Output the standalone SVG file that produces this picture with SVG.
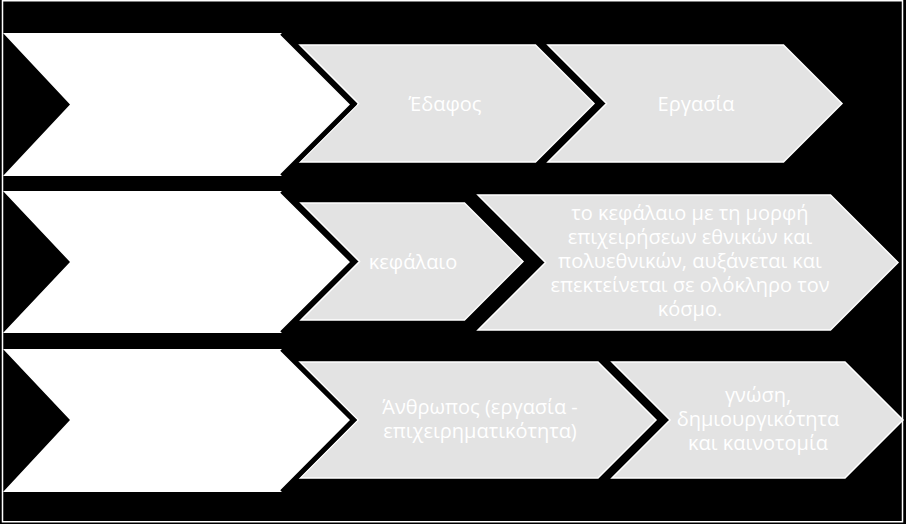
<svg xmlns="http://www.w3.org/2000/svg" width="906" height="524" viewBox="0 0 906 524">
<style>
.bg{fill:#000}
.frame{fill:none;stroke:#fff;stroke-width:1.5}
.lead{fill:#fff}
.edge{fill:none;stroke:#000;stroke-width:5;stroke-linejoin:miter}
.step{fill:#e3e3e3;stroke:#fff;stroke-width:1.5}
.t{fill:#fff;font-family:"Open Sans","Noto Sans",sans-serif;font-size:20px;text-anchor:middle}
</style>
<rect class="bg" x="0" y="0" width="906" height="524"/>
<rect class="frame" x="2.5" y="0.75" width="900" height="521"/>
<g id="connectors"></g>
<g id="row1-step1">
<polygon class="step" points="300,45 535.5,45 594,103.5 535.5,162 300,162 358.5,103.5"/>
<text class="t" x="445" y="110.5">Έδαφος</text>
</g>
<g id="row1-step2">
<polygon class="step" points="548,45 783.5,45 842,103.5 783.5,162 548,162 606.5,103.5"/>
<text class="t" x="696" y="110.5">Εργασία</text>
</g>
<g id="row2-step1">
<polygon class="step" points="301,203 464.5,203 523,261.5 464.5,320 301,320 359.5,261.5"/>
<text class="t" x="413" y="268.5">κεφάλαιο</text>
</g>
<g id="row2-step2">
<polygon class="step" points="478,195 830.5,195 898,262.5 830.5,330 478,330 545.5,262.5"/>
<text class="t"><tspan x="690" y="220">το κεφάλαιο με τη μορφή</tspan><tspan x="690" y="244">επιχειρήσεων εθνικών και</tspan><tspan x="690" y="268">πολυεθνικών, αυξάνεται και</tspan><tspan x="690" y="292">επεκτείνεται σε ολόκληρο τον</tspan><tspan x="690" y="316">κόσμο.</tspan></text>
</g>
<g id="row3-step1">
<polygon class="step" points="300,362 598,362 656,420 598,478 300,478 358,420"/>
<text class="t"><tspan x="480" y="414">Άνθρωπος (εργασία -</tspan><tspan x="480" y="438">επιχειρηματικότητα)</tspan></text>
</g>
<g id="row3-step2">
<polygon class="step" points="612,362 845,362 903,420 845,478 612,478 670,420"/>
<text class="t"><tspan x="758" y="402">γνώση,</tspan><tspan x="758" y="426">δημιουργικότητα</tspan><tspan x="758" y="450">και καινοτομία</tspan></text>
</g>
<g id="row1-lead">
<polygon class="lead" points="3,33 282,33 353.5,104.5 282,176 3,176 70,104.5"/>
<polyline class="edge" points="282,33 353.5,104.5 282,176"/>
</g>
<g id="row2-lead">
<polygon class="lead" points="3,191 282,191 353.5,262 282,333 3,333 70,262"/>
<polyline class="edge" points="282,191 353.5,262 282,333"/>
</g>
<g id="row3-lead">
<polygon class="lead" points="3,349 282,349 353.5,420 282,492 3,492 70,420"/>
<polyline class="edge" points="282,349 353.5,420 282,492"/>
</g>
</svg>
